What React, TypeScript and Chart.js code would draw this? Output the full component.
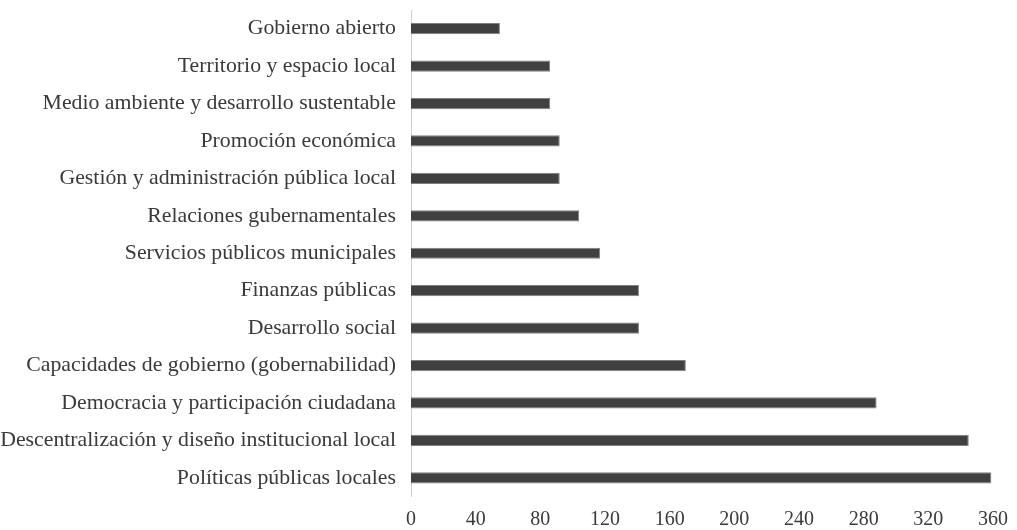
import React, { useEffect, useRef } from "react";
import { Chart, registerables } from "chart.js";

Chart.register(...registerables);

const categories = [
  "Gobierno abierto",
  "Territorio y espacio local",
  "Medio ambiente y desarrollo sustentable",
  "Promoción económica",
  "Gestión y administración pública local",
  "Relaciones gubernamentales",
  "Servicios públicos municipales",
  "Finanzas públicas",
  "Desarrollo social",
  "Capacidades de gobierno (gobernabilidad)",
  "Democracia y participación ciudadana",
  "Descentralización y diseño institucional local",
  "Políticas públicas locales",
];

const values = [55, 86, 86, 92, 92, 104, 117, 141, 141, 170, 288, 345, 359];

const xMin = 0;
const xMax = 360;
const xStep = 40;

const FONT = "'Liberation Serif', 'Times New Roman', serif";
const TEXT = "#3a3a3a";

export default function App() {
  const ref = useRef<HTMLCanvasElement | null>(null);

  useEffect(() => {
    document.body.style.margin = "0";
    const canvas = ref.current;
    if (!canvas) return;
    const chart = new Chart(canvas, {
      type: "bar",
      data: {
        labels: categories,
        datasets: [
          {
            data: values,
            backgroundColor: "#404040",
            borderColor: "#808080",
            borderWidth: 1,
            barPercentage: 0.3,
            categoryPercentage: 1,
          },
        ],
      },
      options: {
        indexAxis: "y",
        animation: false,
        responsive: false,
        maintainAspectRatio: false,
        layout: { padding: { top: 10, right: 24, bottom: 0, left: 0 } },
        plugins: {
          legend: { display: false },
          tooltip: { enabled: false },
          title: { display: false },
        },
        scales: {
          x: {
            min: xMin,
            max: xMax,
            grid: { display: false, drawTicks: false },
            border: { display: false },
            ticks: {
              stepSize: xStep,
              color: TEXT,
              font: { family: FONT, size: 20 },
              padding: 11,
              maxRotation: 0,
            },
            afterFit: (s: any) => {
              s.height = 33.5;
              s.paddingLeft = 0;
              s.paddingRight = 0;
            },
          },
          y: {
            grid: { display: false, drawTicks: false },
            border: { display: true, color: "#d0d0d0", width: 1 },
            ticks: {
              color: TEXT,
              font: { family: FONT, size: 21.8 },
              padding: 15,
              autoSkip: false,
            },
            afterFit: (s: any) => {
              s.width = 411;
              s.paddingTop = 0;
              s.paddingBottom = 0;
            },
          },
        },
      },
    });
    return () => chart.destroy();
  }, []);

  return <canvas ref={ref} width={1017} height={530} style={{ display: "block" }} />;
}
